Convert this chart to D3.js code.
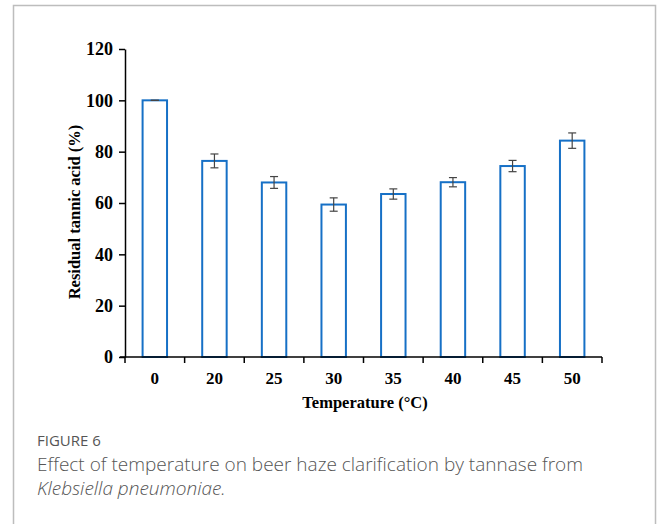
<!DOCTYPE html>
<html>
<head>
<meta charset="utf-8">
<script src="https://cdn.jsdelivr.net/npm/d3@7"></script>
<style>
  body { margin: 0; background: #fff; }
  .tick text { font-family: "Liberation Serif", "Times New Roman", serif; font-weight: bold; font-size: 18px; fill: #000; }
  .axis path, .axis line { stroke: #000; stroke-width: 1.5px; }
</style>
</head>
<body>
<div id="chart"></div>
<script>
var categories = ["0", "20", "25", "30", "35", "40", "45", "50"];
var values = [100, 76.4, 68, 59.4, 63.5, 68.1, 74.4, 84.3];
var errors = [0, 2.7, 2.3, 2.6, 2, 1.8, 2.2, 3];
var yTicks = [0, 20, 40, 60, 80, 100, 120];

var w = 658;
var h = 524;

var svg = d3
  .select("#chart")
  .append("svg")
  .attr("width", w)
  .attr("height", h);

// outer frame
svg.append("rect")
  .attr("x", 13.5)
  .attr("y", 5.5)
  .attr("width", 642)
  .attr("height", 540)
  .attr("fill", "none")
  .attr("stroke", "#bdbdbd")
  .attr("stroke-width", 1.5);

var x = d3
  .scaleBand()
  .domain(categories)
  .range([125, 602])
  .paddingInner(0.59)
  .paddingOuter(0.295);

var y = d3
  .scaleLinear()
  .domain([0, 120])
  .range([357, 49]);

// bars
svg.selectAll(".bar")
  .data(values)
  .enter()
  .append("rect")
  .attr("class", "bar")
  .attr("x", function(d, i) { return x(categories[i]); })
  .attr("y", function(d) { return y(d); })
  .attr("width", x.bandwidth())
  .attr("height", function(d) { return y(0) - y(d); })
  .attr("fill", "#fff")
  .attr("stroke", "#1670c6")
  .attr("stroke-width", 2);

// error bars
var eb = svg.selectAll(".err")
  .data(values)
  .enter()
  .append("g")
  .attr("class", "err")
  .attr("stroke", "#444")
  .attr("stroke-width", 1.2);

eb.append("line")
  .attr("x1", function(d, i) { return x(categories[i]) + x.bandwidth() / 2; })
  .attr("x2", function(d, i) { return x(categories[i]) + x.bandwidth() / 2; })
  .attr("y1", function(d, i) { return y(d + errors[i]); })
  .attr("y2", function(d, i) { return y(d - errors[i]); });

eb.append("line")
  .attr("x1", function(d, i) { return x(categories[i]) + x.bandwidth() / 2 - 4; })
  .attr("x2", function(d, i) { return x(categories[i]) + x.bandwidth() / 2 + 4; })
  .attr("y1", function(d, i) { return y(d + errors[i]); })
  .attr("y2", function(d, i) { return y(d + errors[i]); });

eb.append("line")
  .attr("x1", function(d, i) { return x(categories[i]) + x.bandwidth() / 2 - 4; })
  .attr("x2", function(d, i) { return x(categories[i]) + x.bandwidth() / 2 + 4; })
  .attr("y1", function(d, i) { return y(d - errors[i]); })
  .attr("y2", function(d, i) { return y(d - errors[i]); });

// x axis: ticks at band edges
var xAxis = svg.append("g")
  .attr("class", "axis")
  .attr("transform", "translate(0," + y(0) + ")");

xAxis.append("line")
  .attr("x1", 120)
  .attr("x2", 602)
  .attr("y1", 0)
  .attr("y2", 0);

var edges = categories.map(function(c) { return x(c) - x.step() * x.paddingInner() / 2; });
edges.push(602);
xAxis.selectAll(".xt")
  .data(edges)
  .enter()
  .append("line")
  .attr("x1", function(d) { return d; })
  .attr("x2", function(d) { return d; })
  .attr("y1", 0)
  .attr("y2", 6);

xAxis.selectAll(".xl")
  .data(categories)
  .enter()
  .append("text")
  .attr("x", function(d) { return x(d) + x.bandwidth() / 2; })
  .attr("y", 27)
  .attr("text-anchor", "middle")
  .style("font-family", "'Liberation Serif', serif")
  .style("font-weight", "bold")
  .style("font-size", "17px")
  .text(function(d) { return d; });

// y axis
var yAxis = d3.axisLeft(y).tickValues(yTicks).tickSize(6).tickPadding(6).tickSizeOuter(0);
svg.append("g")
  .attr("class", "y axis")
  .attr("transform", "translate(125,0)")
  .call(yAxis);

// axis titles
svg.append("text")
  .attr("x", 365)
  .attr("y", 408)
  .attr("text-anchor", "middle")
  .style("font-family", "'Liberation Serif', serif")
  .style("font-weight", "bold")
  .style("font-size", "16.5px")
  .text("Temperature (°C)");

svg.append("text")
  .attr("transform", "translate(80,212) rotate(-90)")
  .attr("text-anchor", "middle")
  .style("font-family", "'Liberation Serif', serif")
  .style("font-weight", "bold")
  .style("font-size", "16.5px")
  .text("Residual tannic acid (%)");

// caption
svg.append("text")
  .attr("x", 37)
  .attr("y", 446)
  .style("font-family", "'Open Sans', sans-serif")
  .style("font-size", "15px")
  .style("font-weight", "500")
  .style("fill", "#555")
  .text("FIGURE 6");

svg.append("text")
  .attr("x", 37)
  .attr("y", 471)
  .style("font-family", "'Open Sans', sans-serif")
  .style("font-size", "19px")
  .style("font-weight", "300")
  .style("fill", "#555")
  .text("Effect of temperature on beer haze clarification by tannase from");

svg.append("text")
  .attr("x", 37)
  .attr("y", 495)
  .style("font-family", "'Open Sans', sans-serif")
  .style("font-size", "19px")
  .style("font-style", "italic")
  .style("font-weight", "300")
  .style("fill", "#555")
  .text("Klebsiella pneumoniae.");
</script>
</body>
</html>
